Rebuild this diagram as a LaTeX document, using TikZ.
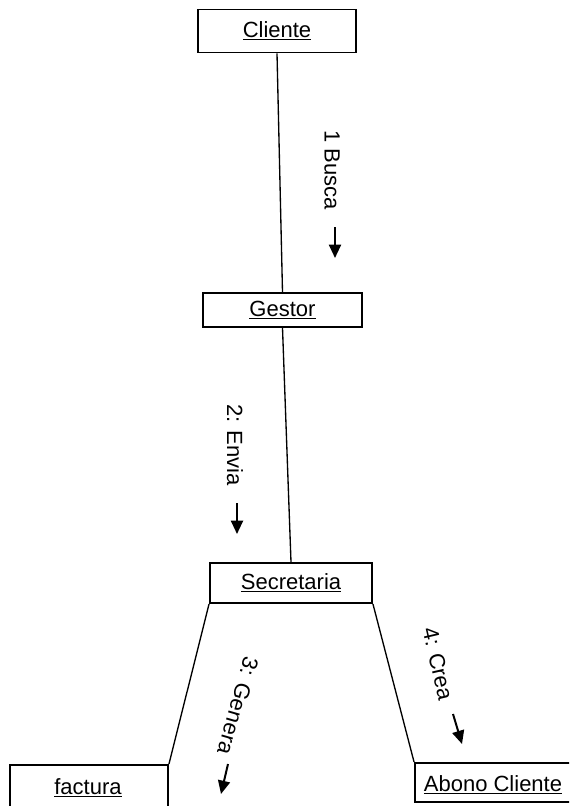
\documentclass[tikz,border=0pt]{standalone}
\usepackage{fontspec}
\setmainfont{Liberation Sans}
\usetikzlibrary{arrows.meta}
\begin{document}
\begin{tikzpicture}[x=0.75pt,y=-0.75pt,
  obj/.style={draw, line width=1.4pt, inner sep=0pt, font=\fontsize{16.5}{18}\selectfont},
  lbl/.style={font=\fontsize{16.5}{18}\selectfont, inner sep=0pt},
  link/.style={line width=1pt},
  msg/.style={line width=1.5pt, -{Triangle[width=9pt,length=10pt]}}]
\clip (0,0) rectangle (569,806);
\fill[white] (0,0) rectangle (569,806);
\node[obj, minimum width=158*0.75pt, minimum height=43*0.75pt] (cli) at (277,31) {\underline{Cliente}};
\node[obj, minimum width=159*0.75pt, minimum height=34*0.75pt] (ges) at (282.5,310) {\underline{Gestor}};
\node[obj, minimum width=162*0.75pt, minimum height=40*0.75pt] (sec) at (291,583) {\underline{Secretaria}};
\node[obj, minimum width=158*0.75pt, minimum height=60*0.75pt, text depth=0pt] (fac) at (89,795) {};
\node[lbl] at (88,788) {\underline{factura}};
\node[obj, minimum width=160*0.75pt, minimum height=39*0.75pt] (abo) at (495,782.5) {};
\node[lbl] at (493,785) {\underline{Abono Cliente}};
\draw[link] (cli.south) -- (ges.north);
\draw[link] (ges.south) -- (sec.north);
\draw[link] (sec.south west) -- (fac.north east);
\draw[link] (sec.south east) -- (abo.north west);
\node[lbl, rotate=-90] (l1) at (332,170) {1 Busca};
\node[lbl, rotate=-90] (l2) at (235,445) {2: Envia};
\node[lbl, rotate=-106] (l3) at (238,706) {3: Genera};
\node[lbl, rotate=-77] (l4) at (438,664) {4: Crea};
\coordinate (a1s) at (335,227); \coordinate (a1e) at (335,258);
\coordinate (a2s) at (237,503); \coordinate (a2e) at (237,534);
\coordinate (a3s) at (228,764); \coordinate (a3e) at (221,794);
\coordinate (a4s) at (453,714); \coordinate (a4e) at (462,744);
\draw[msg] (a1s) -- (a1e);
\draw[msg] (a2s) -- (a2e);
\draw[msg] (a3s) -- (a3e);
\draw[msg] (a4s) -- (a4e);
\end{tikzpicture}
\end{document}
